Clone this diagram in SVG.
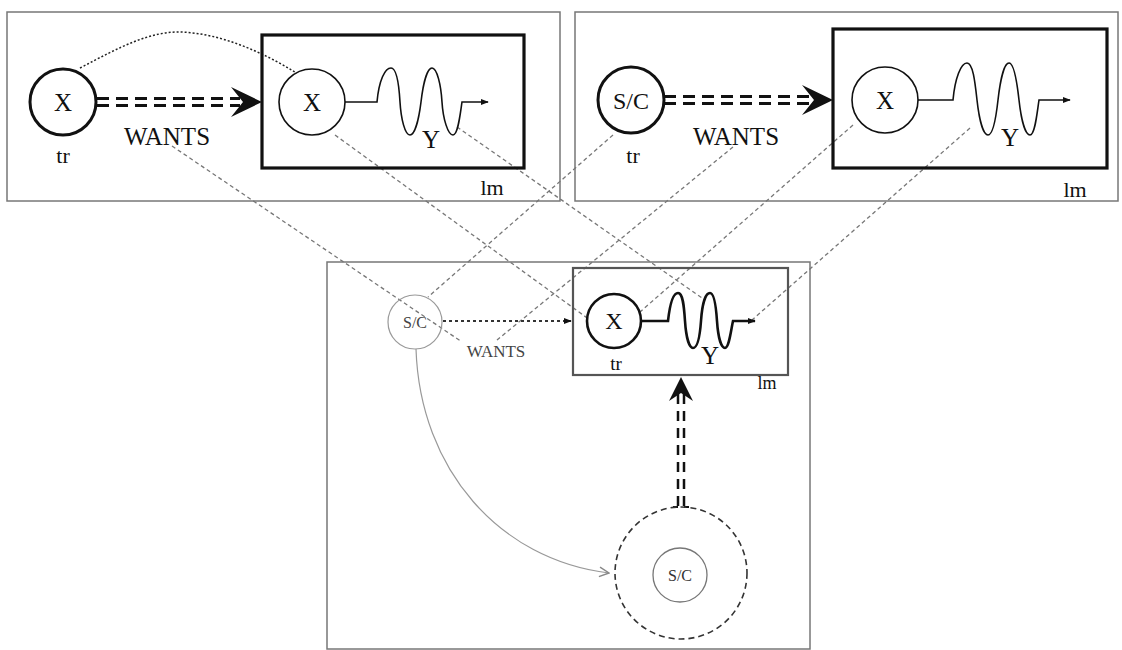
<svg xmlns="http://www.w3.org/2000/svg" width="1122" height="650" viewBox="0 0 1122 650">
<style>
text{font-family:"Liberation Serif","Times New Roman",serif;fill:#111;text-anchor:middle}
.panel{fill:none;stroke:#777;stroke-width:1.5}
.box{fill:none;stroke:#111;stroke-width:3.2}
.proj{fill:none;stroke:#777;stroke-width:1.3;stroke-dasharray:4 3}
.dd{fill:none;stroke:#111;stroke-width:3;stroke-dasharray:12 7}
.wave{fill:none;stroke:#111;stroke-width:1.6}
</style>
<defs>
<marker id="sm" viewBox="0 0 10 10" refX="9" refY="5" markerWidth="8" markerHeight="8" markerUnits="userSpaceOnUse" orient="auto"><path d="M0,1 L10,5 L0,9 z" fill="#111"/></marker>
<marker id="open" viewBox="0 0 10 10" refX="9" refY="5" markerWidth="12" markerHeight="12" markerUnits="userSpaceOnUse" orient="auto"><path d="M1,1 L9,5 L1,9" fill="none" stroke="#888" stroke-width="1.2"/></marker>
</defs>
<rect class="panel" x="7" y="12" width="553" height="189"/>
<rect class="panel" x="575" y="12" width="543" height="189"/>
<rect class="panel" x="327" y="262" width="483" height="387"/>
<g id="connectors">
<line class="proj" x1="172" y1="146" x2="462" y2="342"/>
<line class="proj" x1="335" y1="135" x2="590" y2="320"/>
<line class="proj" x1="457" y1="127" x2="702" y2="298"/>
<line class="proj" x1="613" y1="135" x2="428" y2="297"/>
<line class="proj" x1="733" y1="147" x2="497" y2="340"/>
<line class="proj" x1="853" y1="125" x2="640" y2="312"/>
<line class="proj" x1="970" y1="128" x2="752" y2="320"/>
<path d="M80,68 C120,47 150,31 182,32 C222,34 262,52 295,72" fill="none" stroke="#222" stroke-width="1.5" stroke-dasharray="2 2"/>
<line class="dd" x1="97" y1="98.5" x2="240" y2="98.5"/>
<line class="dd" x1="97" y1="105.5" x2="240" y2="105.5"/>
<path d="M262,102 L231,87 L243,102 L231,117 z" fill="#111"/>
<line class="dd" x1="664" y1="96.5" x2="811" y2="96.5"/>
<line class="dd" x1="664" y1="103.5" x2="811" y2="103.5"/>
<path d="M833,100 L802,85 L814,100 L802,115 z" fill="#111"/>
<line x1="443" y1="321" x2="571" y2="321" stroke="#333" stroke-width="2" stroke-dasharray="3 3" marker-end="url(#sm)"/>
<path d="M416,349 C420,470 500,560 609,573" fill="none" stroke="#999" stroke-width="1.2" marker-end="url(#open)"/>
<line x1="678" y1="506" x2="678" y2="392" stroke="#111" stroke-width="2.5" stroke-dasharray="10 7"/>
<line x1="684" y1="506" x2="684" y2="392" stroke="#111" stroke-width="2.5" stroke-dasharray="10 7"/>
<path d="M673,507 H678 M684,507 H689" stroke="#111" stroke-width="2"/>
<path d="M681,377 L669,401 L681,393 L693,401 z" fill="#111"/>
</g>
<g id="p1-tr">
<circle cx="63" cy="102" r="33" fill="none" stroke="#111" stroke-width="3"/>
<text x="63" y="111" font-size="25">X</text>
<text x="63" y="163" font-size="22">tr</text>
</g>
<text x="167" y="145" font-size="25">WANTS</text>
<g id="p1-lm">
<rect class="box" x="262" y="35" width="262" height="133"/>
<circle cx="312" cy="102" r="33" fill="none" stroke="#111" stroke-width="1.6"/>
<text x="312" y="111" font-size="25">X</text>
<path class="wave" d="M345,102 H377 C379,80 385,68 391,68 C397,68 399,85 400,102 C401,119 405,135 410,135 C415,135 419,118 421,102 C423,85 427,68 432,68 C437,68 441,85 442,102 C443,119 448,135 453,135 C458,135 460,115 462,102 H488" marker-end="url(#sm)"/>
<text x="431" y="148" font-size="25">Y</text>
<text x="492" y="195" font-size="22">lm</text>
</g>
<g id="p2-tr">
<circle cx="631" cy="100" r="33" fill="none" stroke="#111" stroke-width="3"/>
<text x="631" y="109" font-size="24">S/C</text>
<text x="633" y="163" font-size="22">tr</text>
</g>
<text x="736" y="145" font-size="25">WANTS</text>
<g id="p2-lm">
<rect class="box" x="833" y="29" width="274" height="139"/>
<circle cx="885" cy="100" r="33" fill="none" stroke="#111" stroke-width="1.6"/>
<text x="885" y="109" font-size="25">X</text>
<path class="wave" d="M918,100 H953 C955,78 961,63 967,63 C973,63 975,82 977,100 C979,118 983,135 988,135 C993,135 996,118 998,100 C1000,82 1004,63 1009,63 C1014,63 1017,82 1019,100 C1021,118 1025,135 1030,135 C1035,135 1037,113 1039,100 H1070" marker-end="url(#sm)"/>
<text x="1010" y="146" font-size="25">Y</text>
<text x="1075" y="197" font-size="22">lm</text>
</g>
<g id="b-sc">
<circle cx="415" cy="322" r="27" fill="#fff" fill-opacity="0" stroke="#999" stroke-width="1.2"/>
<text x="415" y="328" font-size="16" style="fill:#444">S/C</text>
</g>
<text x="496" y="357" font-size="17" style="fill:#444">WANTS</text>
<g id="b-lm">
<rect x="573" y="268" width="215" height="107" fill="none" stroke="#555" stroke-width="2.2"/>
<circle cx="614" cy="321" r="27" fill="none" stroke="#111" stroke-width="2.6"/>
<text x="614" y="329" font-size="24">X</text>
<path d="M641,321 H668 C670,303 673,293 678,293 C683,293 684,306 685,321 C686,336 689,348 693,348 C698,348 700,335 701,321 C702,306 705,293 710,293 C714,293 716,306 717,321 C718,336 721,348 725,348 C729,348 731,330 733,321 H755" fill="none" stroke="#111" stroke-width="2.6" marker-end="url(#sm)"/>
<text x="616" y="370" font-size="19">tr</text>
<text x="710" y="364" font-size="25">Y</text>
<text x="767" y="389" font-size="18">lm</text>
</g>
<g id="b-target">
<circle cx="681" cy="573" r="66" fill="none" stroke="#333" stroke-width="1.6" stroke-dasharray="6 4"/>
<circle cx="680" cy="575" r="27" fill="none" stroke="#777" stroke-width="1.3"/>
<text x="680" y="581" font-size="16" style="fill:#333">S/C</text>
</g>
</svg>
